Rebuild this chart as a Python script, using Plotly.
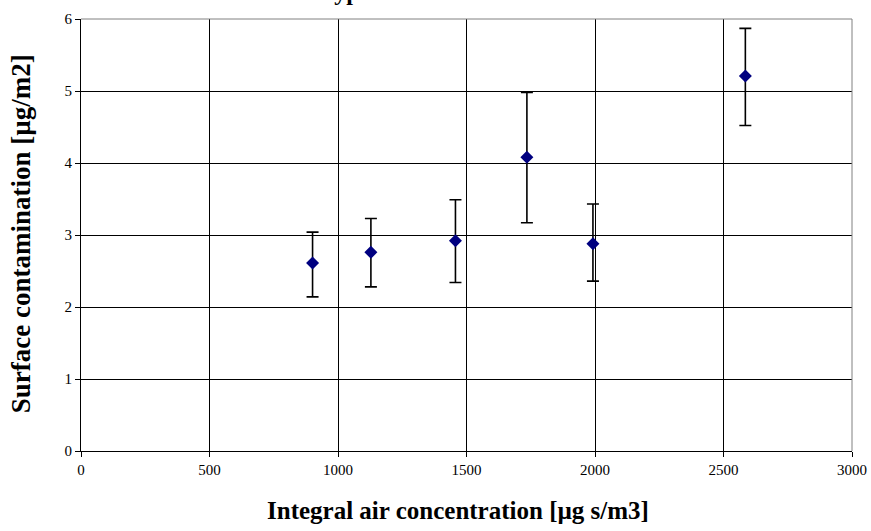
import plotly.graph_objects as go

# Data
air_conc = [901, 1128, 1457, 1735, 1992, 2585]          # Integral air concentration [µg s/m3]
surface = [2.61, 2.76, 2.92, 4.08, 2.88, 5.21]          # Surface contamination [µg/m2]
err_top = [3.04, 3.23, 3.49, 4.98, 3.43, 5.87]          # upper end of error bar
err_bottom = [2.14, 2.28, 2.34, 3.17, 2.36, 4.52]       # lower end of error bar

err_plus = [t - v for t, v in zip(err_top, surface)]
err_minus = [v - b for v, b in zip(surface, err_bottom)]

x_ticks = [0, 500, 1000, 1500, 2000, 2500, 3000]
y_ticks = [0, 1, 2, 3, 4, 5, 6]

font_family = "Liberation Serif"

L, R, T, B = 81, 18.5, 18.5, 80
W, H = 871, 531
pw, ph = W - L - R, H - T - B

fig = go.Figure()
fig.add_trace(go.Scatter(
    x=air_conc, y=surface, mode="markers",
    marker=dict(symbol="diamond", size=10, color="#000080"),
    error_y=dict(type="data", symmetric=False, array=err_plus, arrayminus=err_minus,
                 color="black", thickness=1.6, width=6),
    showlegend=False,
))

fig.update_layout(
    width=W, height=H,
    margin=dict(l=L, r=R, t=T, b=B),
    paper_bgcolor="white", plot_bgcolor="white",
    font=dict(family=font_family, color="black"),
    xaxis=dict(
        range=[0, 3000], tickvals=x_ticks, ticktext=[str(v) for v in x_ticks],
        showgrid=True, gridcolor="#000000", gridwidth=1, automargin=False,
        zeroline=False, showline=True, linecolor="#000000", linewidth=1,
        ticks="outside", ticklen=5, tickcolor="black",
        tickfont=dict(size=15, family=font_family, color="black"),
    ),
    yaxis=dict(
        range=[0, 6], tickvals=y_ticks, ticktext=[str(v) for v in y_ticks],
        showgrid=True, gridcolor="#000000", gridwidth=1, automargin=False,
        zeroline=False, showline=True, linecolor="#000000", linewidth=1,
        ticks="outside", ticklen=5, tickcolor="black",
        tickfont=dict(size=15, family=font_family, color="black"),
    ),
)

# gray top and right border
fig.add_shape(type="line", xref="paper", yref="paper", x0=0, x1=1, y0=1, y1=1,
              line=dict(color="#808080", width=1))
fig.add_shape(type="line", xref="paper", yref="paper", x0=1, x1=1, y0=0, y1=1,
              line=dict(color="#808080", width=1))

# axis titles
fig.add_annotation(text="<b>Integral air concentration [µg s/m3]</b>",
                   xref="paper", yref="paper",
                   x=(458 - L) / pw, y=-(511 - (H - B)) / ph,
                   xanchor="center", yanchor="middle", showarrow=False,
                   font=dict(size=25, family=font_family, color="black"))
fig.add_annotation(text="<b>Surface contamination [µg/m2]</b>",
                   xref="paper", yref="paper",
                   x=-(L - 21) / pw, y=((H - B) - 234) / ph, textangle=-90,
                   xanchor="center", yanchor="middle", showarrow=False,
                   font=dict(size=27, family=font_family, color="black"))

# title mostly cut off at the top of the image
fig.add_annotation(text="<b>Typical</b>", xref="paper", yref="paper",
                   x=(318 - L) / pw, y=1, xanchor="left", yanchor="bottom",
                   yshift=12, showarrow=False,
                   font=dict(size=24, family=font_family, color="black"))

fig.write_html("out.html", config={"displayModeBar": False},
               post_script="document.body.style.margin='0';")
